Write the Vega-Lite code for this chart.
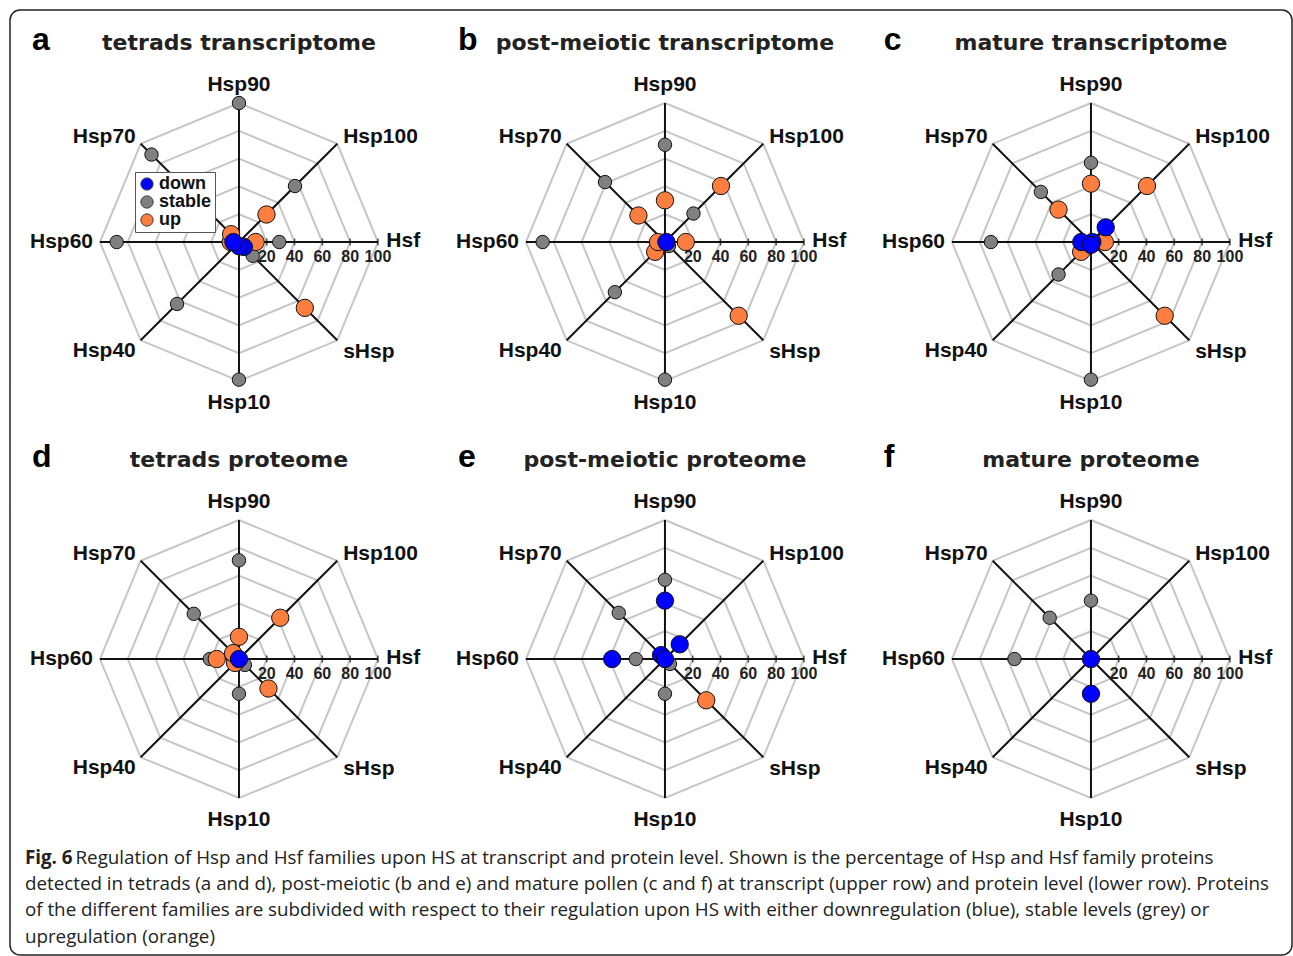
{
  "$schema": "https://vega.github.io/schema/vega-lite/v6.json",
  "width": 1293,
  "height": 956,
  "autosize": {"type": "fit", "contains": "padding"},
  "padding": {"left": 10, "top": 10, "right": 1, "bottom": 1},
  "background": "white",
  "config": {
    "view": {"stroke": "#222222", "strokeWidth": 1.5, "cornerRadius": 10},
    "font": "Liberation Sans"
  },
  "datasets": {
    "axes": [
      {"family": "Hsp90", "k": 0}, {"family": "Hsp100", "k": 1}, {"family": "Hsf", "k": 2}, {"family": "sHsp", "k": 3},
      {"family": "Hsp10", "k": 4}, {"family": "Hsp40", "k": 5}, {"family": "Hsp60", "k": 6}, {"family": "Hsp70", "k": 7}
    ],
    "panels": [
      {"stage": "tetrads", "level": "transcriptome", "letter": "a", "title": "tetrads transcriptome"},
      {"stage": "post-meiotic", "level": "transcriptome", "letter": "b", "title": "post-meiotic transcriptome"},
      {"stage": "mature", "level": "transcriptome", "letter": "c", "title": "mature transcriptome"},
      {"stage": "tetrads", "level": "proteome", "letter": "d", "title": "tetrads proteome"},
      {"stage": "post-meiotic", "level": "proteome", "letter": "e", "title": "post-meiotic proteome"},
      {"stage": "mature", "level": "proteome", "letter": "f", "title": "mature proteome"}
    ],
    "pts": [
      {"stage": "tetrads", "level": "transcriptome", "family": "Hsp90", "status": "stable", "pct": 100},
      {"stage": "tetrads", "level": "transcriptome", "family": "Hsp100", "status": "stable", "pct": 57},
      {"stage": "tetrads", "level": "transcriptome", "family": "Hsf", "status": "stable", "pct": 29},
      {"stage": "tetrads", "level": "transcriptome", "family": "sHsp", "status": "stable", "pct": 14},
      {"stage": "tetrads", "level": "transcriptome", "family": "Hsp10", "status": "stable", "pct": 99},
      {"stage": "tetrads", "level": "transcriptome", "family": "Hsp40", "status": "stable", "pct": 63},
      {"stage": "tetrads", "level": "transcriptome", "family": "Hsp60", "status": "stable", "pct": 88},
      {"stage": "tetrads", "level": "transcriptome", "family": "Hsp70", "status": "stable", "pct": 89},
      {"stage": "post-meiotic", "level": "transcriptome", "family": "Hsp90", "status": "stable", "pct": 70},
      {"stage": "post-meiotic", "level": "transcriptome", "family": "Hsp100", "status": "stable", "pct": 29},
      {"stage": "post-meiotic", "level": "transcriptome", "family": "sHsp", "status": "stable", "pct": 4},
      {"stage": "post-meiotic", "level": "transcriptome", "family": "Hsp10", "status": "stable", "pct": 99},
      {"stage": "post-meiotic", "level": "transcriptome", "family": "Hsp40", "status": "stable", "pct": 51},
      {"stage": "post-meiotic", "level": "transcriptome", "family": "Hsp60", "status": "stable", "pct": 88},
      {"stage": "post-meiotic", "level": "transcriptome", "family": "Hsp70", "status": "stable", "pct": 61},
      {"stage": "mature", "level": "transcriptome", "family": "Hsp90", "status": "stable", "pct": 57},
      {"stage": "mature", "level": "transcriptome", "family": "Hsp10", "status": "stable", "pct": 99},
      {"stage": "mature", "level": "transcriptome", "family": "Hsp40", "status": "stable", "pct": 33},
      {"stage": "mature", "level": "transcriptome", "family": "Hsp60", "status": "stable", "pct": 72},
      {"stage": "mature", "level": "transcriptome", "family": "Hsp70", "status": "stable", "pct": 51},
      {"stage": "tetrads", "level": "proteome", "family": "Hsp90", "status": "stable", "pct": 71},
      {"stage": "tetrads", "level": "proteome", "family": "sHsp", "status": "stable", "pct": 6},
      {"stage": "tetrads", "level": "proteome", "family": "Hsp10", "status": "stable", "pct": 25},
      {"stage": "tetrads", "level": "proteome", "family": "Hsp60", "status": "stable", "pct": 21},
      {"stage": "tetrads", "level": "proteome", "family": "Hsp70", "status": "stable", "pct": 46},
      {"stage": "post-meiotic", "level": "proteome", "family": "Hsp90", "status": "stable", "pct": 57},
      {"stage": "post-meiotic", "level": "proteome", "family": "sHsp", "status": "stable", "pct": 5},
      {"stage": "post-meiotic", "level": "proteome", "family": "Hsp10", "status": "stable", "pct": 25},
      {"stage": "post-meiotic", "level": "proteome", "family": "Hsp60", "status": "stable", "pct": 21},
      {"stage": "post-meiotic", "level": "proteome", "family": "Hsp70", "status": "stable", "pct": 47},
      {"stage": "mature", "level": "proteome", "family": "Hsp90", "status": "stable", "pct": 42},
      {"stage": "mature", "level": "proteome", "family": "Hsp60", "status": "stable", "pct": 55},
      {"stage": "mature", "level": "proteome", "family": "Hsp70", "status": "stable", "pct": 42},
      {"stage": "tetrads", "level": "transcriptome", "family": "Hsp100", "status": "up", "pct": 28},
      {"stage": "tetrads", "level": "transcriptome", "family": "Hsf", "status": "up", "pct": 12},
      {"stage": "tetrads", "level": "transcriptome", "family": "sHsp", "status": "up", "pct": 67},
      {"stage": "tetrads", "level": "transcriptome", "family": "Hsp60", "status": "up", "pct": 6},
      {"stage": "tetrads", "level": "transcriptome", "family": "Hsp70", "status": "up", "pct": 8},
      {"stage": "post-meiotic", "level": "transcriptome", "family": "Hsp90", "status": "up", "pct": 30},
      {"stage": "post-meiotic", "level": "transcriptome", "family": "Hsp100", "status": "up", "pct": 57},
      {"stage": "post-meiotic", "level": "transcriptome", "family": "Hsf", "status": "up", "pct": 15},
      {"stage": "post-meiotic", "level": "transcriptome", "family": "sHsp", "status": "up", "pct": 75},
      {"stage": "post-meiotic", "level": "transcriptome", "family": "Hsp40", "status": "up", "pct": 10},
      {"stage": "post-meiotic", "level": "transcriptome", "family": "Hsp60", "status": "up", "pct": 5},
      {"stage": "post-meiotic", "level": "transcriptome", "family": "Hsp70", "status": "up", "pct": 27},
      {"stage": "mature", "level": "transcriptome", "family": "Hsp90", "status": "up", "pct": 42},
      {"stage": "mature", "level": "transcriptome", "family": "Hsp100", "status": "up", "pct": 57},
      {"stage": "mature", "level": "transcriptome", "family": "Hsf", "status": "up", "pct": 10},
      {"stage": "mature", "level": "transcriptome", "family": "sHsp", "status": "up", "pct": 75},
      {"stage": "mature", "level": "transcriptome", "family": "Hsp40", "status": "up", "pct": 10},
      {"stage": "mature", "level": "transcriptome", "family": "Hsp70", "status": "up", "pct": 33},
      {"stage": "tetrads", "level": "proteome", "family": "Hsp90", "status": "up", "pct": 16},
      {"stage": "tetrads", "level": "proteome", "family": "Hsp100", "status": "up", "pct": 42},
      {"stage": "tetrads", "level": "proteome", "family": "sHsp", "status": "up", "pct": 30},
      {"stage": "tetrads", "level": "proteome", "family": "Hsp40", "status": "up", "pct": 4},
      {"stage": "tetrads", "level": "proteome", "family": "Hsp60", "status": "up", "pct": 16},
      {"stage": "tetrads", "level": "proteome", "family": "Hsp70", "status": "up", "pct": 6},
      {"stage": "post-meiotic", "level": "proteome", "family": "sHsp", "status": "up", "pct": 42},
      {"stage": "tetrads", "level": "transcriptome", "family": "sHsp", "status": "down", "pct": 5},
      {"stage": "tetrads", "level": "transcriptome", "family": "Hsp10", "status": "down", "pct": 3},
      {"stage": "tetrads", "level": "transcriptome", "family": "Hsp60", "status": "down", "pct": 4},
      {"stage": "post-meiotic", "level": "transcriptome", "family": "Hsf", "status": "down", "pct": 1},
      {"stage": "mature", "level": "transcriptome", "family": "Hsp100", "status": "down", "pct": 15},
      {"stage": "mature", "level": "transcriptome", "family": "Hsf", "status": "down", "pct": 1},
      {"stage": "mature", "level": "transcriptome", "family": "Hsp60", "status": "down", "pct": 7},
      {"stage": "mature", "level": "transcriptome", "family": "Hsp10", "status": "down", "pct": 2},
      {"stage": "tetrads", "level": "proteome", "family": "Hsf", "status": "down", "pct": 0},
      {"stage": "post-meiotic", "level": "proteome", "family": "Hsp90", "status": "down", "pct": 42},
      {"stage": "post-meiotic", "level": "proteome", "family": "Hsp100", "status": "down", "pct": 15},
      {"stage": "post-meiotic", "level": "proteome", "family": "Hsp60", "status": "down", "pct": 38},
      {"stage": "post-meiotic", "level": "proteome", "family": "Hsp70", "status": "down", "pct": 4},
      {"stage": "post-meiotic", "level": "proteome", "family": "Hsf", "status": "down", "pct": 0},
      {"stage": "mature", "level": "proteome", "family": "Hsf", "status": "down", "pct": 0},
      {"stage": "mature", "level": "proteome", "family": "Hsp10", "status": "down", "pct": 25}
    ]
  },
  "encoding": {
    "x": {"field": "stage", "type": "nominal", "scale": {"domain": ["tetrads", "post-meiotic", "mature"], "paddingInner": 0, "paddingOuter": 0.0047}, "axis": null},
    "y": {"field": "level", "type": "nominal", "scale": {"domain": ["transcriptome", "proteome"], "paddingInner": 0, "paddingOuter": 0.1331}, "axis": null},
    "xOffset": {"field": "xd", "type": "quantitative", "scale": {"domain": [-163.3, 143.2], "nice": false, "zero": false}},
    "yOffset": {"field": "yd", "type": "quantitative", "scale": {"domain": [-127, 173], "nice": false, "zero": false}}
  },
  "layer": [
    {
      "data": {"values": [{"stage": ["tetrads", "post-meiotic", "mature"], "level": ["transcriptome", "proteome"], "ring": [20, 40, 60, 80, 100], "k": [0, 1, 2, 3, 4, 5, 6, 7, 8]}]},
      "transform": [
        {"flatten": ["stage"]}, {"flatten": ["level"]}, {"flatten": ["ring"]}, {"flatten": ["k"]},
        {"calculate": "datum.ring*sin(datum.k*PI/4)", "as": "xd"},
        {"calculate": "-datum.ring*cos(datum.k*PI/4)", "as": "yd"}
      ],
      "mark": {"type": "line", "stroke": "#c6c6c6", "strokeWidth": 2},
      "encoding": {
        "detail": [{"field": "stage"}, {"field": "level"}, {"field": "ring"}],
        "order": {"field": "k", "type": "quantitative"}
      }
    },
    {
      "data": {"values": [{"stage": ["tetrads", "post-meiotic", "mature"], "level": ["transcriptome", "proteome"], "k": [0, 1, 2, 3, 4, 5, 6, 7], "r": [0, 100]}]},
      "transform": [
        {"flatten": ["stage"]}, {"flatten": ["level"]}, {"flatten": ["k"]}, {"flatten": ["r"]},
        {"calculate": "datum.r*sin(datum.k*PI/4)", "as": "xd"},
        {"calculate": "-datum.r*cos(datum.k*PI/4)", "as": "yd"}
      ],
      "mark": {"type": "line", "stroke": "#111111", "strokeWidth": 2},
      "encoding": {
        "detail": [{"field": "stage"}, {"field": "level"}, {"field": "k"}],
        "order": {"field": "r", "type": "quantitative"}
      }
    },
    {
      "data": {"values": [{"stage": ["tetrads", "post-meiotic", "mature"], "level": ["transcriptome", "proteome"], "t": [20, 40, 60, 80, 100]}]},
      "transform": [
        {"flatten": ["stage"]}, {"flatten": ["level"]}, {"flatten": ["t"]},
        {"calculate": "datum.t", "as": "xd"},
        {"calculate": "0", "as": "yd"}
      ],
      "layer": [
        {"mark": {"type": "point", "shape": "M0,-1L0,1", "size": 49, "stroke": "#111111", "strokeWidth": 1.5, "filled": false}},
        {"mark": {"type": "text", "dy": 15, "fontSize": 16, "fontWeight": "bold", "fill": "#222222", "align": "center", "baseline": "middle"},
         "encoding": {"text": {"field": "t", "type": "quantitative"}}}
      ]
    },
    {
      "data": {"values": [{"stage": ["tetrads", "post-meiotic", "mature"], "level": ["transcriptome", "proteome"], "family": ["Hsp90", "Hsp10"], "k": [0, 4]}]},
      "transform": [
        {"flatten": ["stage"]}, {"flatten": ["level"]}, {"flatten": ["family", "k"]},
        {"calculate": "0", "as": "xd"},
        {"calculate": "datum.k == 0 ? -113.3 : 115.9", "as": "yd"}
      ],
      "mark": {"type": "text", "fontSize": 21, "fontWeight": "bold", "fill": "#111111", "align": "center", "baseline": "middle"},
      "encoding": {"text": {"field": "family"}}
    },
    {
      "data": {"values": [{"stage": ["tetrads", "post-meiotic", "mature"], "level": ["transcriptome", "proteome"], "family": ["Hsp100", "Hsf", "sHsp"], "k": [1, 2, 3]}]},
      "transform": [
        {"flatten": ["stage"]}, {"flatten": ["level"]}, {"flatten": ["family", "k"]},
        {"calculate": "106*sin(datum.k*PI/4)", "as": "xd"},
        {"calculate": "-106*cos(datum.k*PI/4) + (datum.k == 3 ? 4.3 : -0.7)", "as": "yd"}
      ],
      "mark": {"type": "text", "fontSize": 21, "fontWeight": "bold", "fill": "#111111", "align": "left", "baseline": "middle"},
      "encoding": {"text": {"field": "family"}}
    },
    {
      "data": {"values": [{"stage": ["tetrads", "post-meiotic", "mature"], "level": ["transcriptome", "proteome"], "family": ["Hsp40", "Hsp60", "Hsp70"], "k": [5, 6, 7]}]},
      "transform": [
        {"flatten": ["stage"]}, {"flatten": ["level"]}, {"flatten": ["family", "k"]},
        {"calculate": "105*sin(datum.k*PI/4)", "as": "xd"},
        {"calculate": "-105*cos(datum.k*PI/4) + (datum.k == 5 ? 4.3 : (datum.k == 7 ? -1.4 : 0))", "as": "yd"}
      ],
      "mark": {"type": "text", "fontSize": 21, "fontWeight": "bold", "fill": "#111111", "align": "right", "baseline": "middle"},
      "encoding": {"text": {"field": "family"}}
    },
    {
      "data": {"name": "panels"},
      "transform": [
        {"calculate": "0", "as": "xd"},
        {"calculate": "-137.8", "as": "yd"}
      ],
      "mark": {"type": "text", "font": "DejaVu Sans", "fontSize": 22, "fontWeight": "bold", "fill": "#222222", "align": "center", "baseline": "alphabetic"},
      "encoding": {"text": {"field": "title"}}
    },
    {
      "data": {"name": "panels"},
      "transform": [
        {"calculate": "-149", "as": "xd"},
        {"calculate": "-137.8", "as": "yd"}
      ],
      "mark": {"type": "text", "fontSize": 32, "fontWeight": "bold", "fill": "#000000", "align": "left", "baseline": "alphabetic"},
      "encoding": {"text": {"field": "letter"}}
    },
    {
      "data": {"name": "pts"},
      "transform": [
        {"lookup": "family", "from": {"data": {"name": "axes"}, "key": "family", "fields": ["k"]}},
        {"calculate": "datum.pct*sin(datum.k*PI/4)", "as": "xd"},
        {"calculate": "-datum.pct*cos(datum.k*PI/4)", "as": "yd"}
      ],
      "mark": {"type": "point", "filled": true, "opacity": 1, "stroke": "#111111", "strokeWidth": 1},
      "encoding": {
        "color": {
          "field": "status", "type": "nominal",
          "scale": {"domain": ["down", "stable", "up"], "range": ["#0000ff", "#808080", "#fd7e3e"]},
          "legend": {
            "title": null, "orient": "none", "legendX": 125, "legendY": 162, "direction": "vertical",
            "labelFontSize": 18, "labelFontWeight": "bold", "labelColor": "#111111", "labelOffset": 3,
            "symbolType": "circle", "symbolSize": 150, "symbolStrokeColor": "#333333", "symbolStrokeWidth": 1,
            "strokeColor": "#555555", "fillColor": "white", "padding": 3, "rowPadding": 0
          }
        },
        "size": {"condition": {"test": "datum.status === 'stable'", "value": 180}, "value": 300}
      }
    },
    {
      "data": {"values": [{"t": "Fig. 6"}]},
      "transform": [
        {"calculate": "-154", "as": "xd"},
        {"calculate": "147.5", "as": "yd"}
      ],
      "mark": {"type": "text", "font": "Open Sans", "fontSize": 18.8, "fontWeight": "bold", "fill": "#222222", "align": "left", "baseline": "alphabetic"},
      "encoding": {
        "x": {"datum": "tetrads", "type": "nominal"},
        "y": {"datum": "proteome", "type": "nominal"},
        "text": {"field": "t"}
      }
    },
    {
      "data": {"values": [{"t": "Regulation of Hsp and Hsf families upon HS at transcript and protein level. Shown is the percentage of Hsp and Hsf family proteins"}]},
      "transform": [
        {"calculate": "-117.6", "as": "xd"},
        {"calculate": "147.5", "as": "yd"}
      ],
      "mark": {"type": "text", "font": "Open Sans", "fontSize": 18.8, "fill": "#222222", "align": "left", "baseline": "alphabetic"},
      "encoding": {
        "x": {"datum": "tetrads", "type": "nominal"},
        "y": {"datum": "proteome", "type": "nominal"},
        "text": {"field": "t"}
      }
    },
    {
      "data": {"values": [{"t": "detected in tetrads (a and d), post-meiotic (b and e) and mature pollen (c and f) at transcript (upper row) and protein level (lower row). Proteins\nof the different families are subdivided with respect to their regulation upon HS with either downregulation (blue), stable levels (grey) or\nupregulation (orange)"}]},
      "transform": [
        {"calculate": "-154", "as": "xd"},
        {"calculate": "166.2", "as": "yd"}
      ],
      "mark": {"type": "text", "font": "Open Sans", "fontSize": 18.8, "fill": "#222222", "align": "left", "baseline": "alphabetic", "lineBreak": "\n", "lineHeight": 26.4},
      "encoding": {
        "x": {"datum": "tetrads", "type": "nominal"},
        "y": {"datum": "proteome", "type": "nominal"},
        "text": {"field": "t"}
      }
    }
  ]
}
